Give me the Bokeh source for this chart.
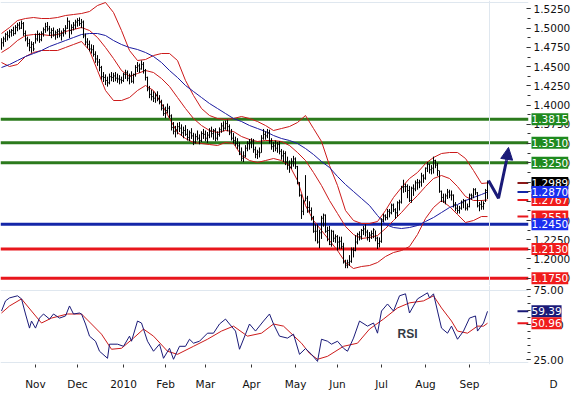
from bokeh.plotting import figure
from bokeh.models import (Span, Label, FixedTicker, Arrow, NormalHead, Range1d,
                          SingleIntervalTicker, NumeralTickFormatter, GridBox)
from bokeh.embed import file_html
from bokeh.resources import INLINE

# ---------------- data (EUR/USD daily, trading-day index) ----------------
month_idx = [17, 38, 61, 82, 102, 125, 147, 168, 190, 212, 234]
month_labels = ["Nov", "Dec", "2010", "Feb", "Mar", "Apr", "May", "Jun", "Jul", "Aug", "Sep"]

high = [1.487, 1.489, 1.494, 1.496, 1.498, 1.499, 1.502, 1.504, 1.507, 1.508,
        1.510, 1.508, 1.497, 1.489, 1.486, 1.483, 1.482, 1.493, 1.497, 1.494,
        1.496, 1.501, 1.507, 1.508, 1.503, 1.500, 1.501, 1.497, 1.499, 1.500,
        1.497, 1.500, 1.504, 1.514, 1.510, 1.505, 1.508, 1.511, 1.513, 1.514,
        1.512, 1.510, 1.493, 1.487, 1.484, 1.479, 1.478, 1.470, 1.465, 1.460,
        1.451, 1.443, 1.440, 1.437, 1.441, 1.443, 1.442, 1.443, 1.441, 1.439,
        1.437, 1.442, 1.446, 1.445, 1.441, 1.444, 1.441, 1.452, 1.456, 1.454,
        1.458, 1.456, 1.447, 1.437, 1.425, 1.420, 1.418, 1.416, 1.418, 1.413,
        1.407, 1.401, 1.398, 1.402, 1.399, 1.388, 1.378, 1.373, 1.377, 1.378,
        1.375, 1.372, 1.374, 1.369, 1.367, 1.370, 1.364, 1.363, 1.367, 1.362,
        1.366, 1.369, 1.367, 1.365, 1.370, 1.372, 1.369, 1.370, 1.366, 1.371,
        1.377, 1.379, 1.380, 1.381, 1.375, 1.369, 1.364, 1.359, 1.357, 1.352,
        1.345, 1.340, 1.348, 1.353, 1.356, 1.357, 1.356, 1.346, 1.342, 1.345,
        1.361, 1.369, 1.366, 1.369, 1.368, 1.357, 1.352, 1.354, 1.352, 1.353,
        1.343, 1.341, 1.340, 1.333, 1.328, 1.331, 1.334, 1.332, 1.321, 1.300,
        1.284, 1.277, 1.309, 1.282, 1.275, 1.267, 1.256, 1.245, 1.245, 1.238,
        1.256, 1.259, 1.258, 1.242, 1.243, 1.238, 1.237, 1.232, 1.231, 1.229,
        1.229, 1.221, 1.199, 1.199, 1.205, 1.215, 1.215, 1.231, 1.234, 1.236,
        1.239, 1.243, 1.245, 1.238, 1.235, 1.237, 1.240, 1.237, 1.229, 1.228,
        1.253, 1.259, 1.258, 1.265, 1.265, 1.272, 1.272, 1.266, 1.275, 1.277,
        1.295, 1.303, 1.298, 1.297, 1.295, 1.294, 1.297, 1.302, 1.304, 1.303,
        1.312, 1.310, 1.319, 1.326, 1.324, 1.322, 1.333, 1.329, 1.325, 1.315,
        1.289, 1.285, 1.285, 1.291, 1.290, 1.289, 1.284, 1.274, 1.270, 1.269,
        1.276, 1.278, 1.277, 1.272, 1.285, 1.285, 1.292, 1.292, 1.287, 1.274,
        1.276, 1.275, 1.291, 1.302]
low = [1.472, 1.476, 1.482, 1.484, 1.487, 1.489, 1.490, 1.492, 1.496, 1.498,
       1.499, 1.490, 1.483, 1.476, 1.470, 1.468, 1.470, 1.480, 1.483, 1.481,
       1.483, 1.489, 1.494, 1.496, 1.490, 1.487, 1.489, 1.485, 1.487, 1.488,
       1.484, 1.489, 1.492, 1.499, 1.487, 1.492, 1.497, 1.499, 1.502, 1.503,
       1.500, 1.487, 1.478, 1.474, 1.470, 1.467, 1.463, 1.455, 1.451, 1.444,
       1.433, 1.430, 1.426, 1.424, 1.427, 1.431, 1.430, 1.431, 1.429, 1.427,
       1.428, 1.430, 1.434, 1.431, 1.427, 1.429, 1.428, 1.437, 1.443, 1.442,
       1.446, 1.441, 1.432, 1.418, 1.409, 1.406, 1.404, 1.403, 1.405, 1.401,
       1.393, 1.386, 1.383, 1.389, 1.383, 1.367, 1.362, 1.358, 1.362, 1.365,
       1.360, 1.357, 1.360, 1.354, 1.353, 1.356, 1.348, 1.350, 1.354, 1.349,
       1.352, 1.356, 1.353, 1.351, 1.357, 1.358, 1.355, 1.353, 1.354, 1.359,
       1.364, 1.366, 1.368, 1.366, 1.361, 1.354, 1.350, 1.347, 1.343, 1.335,
       1.327, 1.326, 1.332, 1.340, 1.342, 1.344, 1.338, 1.331, 1.330, 1.332,
       1.338, 1.355, 1.355, 1.357, 1.350, 1.342, 1.339, 1.340, 1.338, 1.336,
       1.329, 1.326, 1.322, 1.316, 1.312, 1.317, 1.320, 1.317, 1.297, 1.281,
       1.252, 1.257, 1.275, 1.260, 1.260, 1.250, 1.234, 1.223, 1.220, 1.214,
       1.226, 1.242, 1.234, 1.223, 1.218, 1.216, 1.222, 1.221, 1.211, 1.213,
       1.213, 1.194, 1.188, 1.188, 1.191, 1.195, 1.202, 1.210, 1.219, 1.224,
       1.225, 1.231, 1.229, 1.224, 1.222, 1.226, 1.227, 1.223, 1.213, 1.215,
       1.221, 1.248, 1.250, 1.251, 1.254, 1.258, 1.261, 1.252, 1.255, 1.263,
       1.272, 1.286, 1.287, 1.279, 1.274, 1.273, 1.282, 1.288, 1.290, 1.292,
       1.294, 1.299, 1.303, 1.313, 1.311, 1.310, 1.311, 1.318, 1.308, 1.286,
       1.274, 1.273, 1.271, 1.278, 1.279, 1.276, 1.267, 1.262, 1.259, 1.259,
       1.264, 1.266, 1.263, 1.263, 1.267, 1.277, 1.279, 1.283, 1.267, 1.262,
       1.264, 1.264, 1.274, 1.278]
close = [1.481, 1.486, 1.492, 1.490, 1.495, 1.497, 1.493, 1.501, 1.504, 1.500,
         1.506, 1.493, 1.486, 1.480, 1.475, 1.479, 1.473, 1.486, 1.492, 1.485,
         1.493, 1.498, 1.502, 1.499, 1.494, 1.497, 1.491, 1.494, 1.496, 1.491,
         1.493, 1.497, 1.500, 1.509, 1.497, 1.501, 1.504, 1.508, 1.510, 1.506,
         1.508, 1.490, 1.482, 1.479, 1.473, 1.472, 1.466, 1.460, 1.456, 1.449,
         1.437, 1.436, 1.432, 1.429, 1.437, 1.436, 1.438, 1.435, 1.434, 1.433,
         1.432, 1.440, 1.442, 1.435, 1.438, 1.431, 1.440, 1.449, 1.451, 1.447,
         1.453, 1.445, 1.436, 1.421, 1.414, 1.411, 1.409, 1.413, 1.408, 1.404,
         1.396, 1.389, 1.393, 1.396, 1.386, 1.371, 1.366, 1.368, 1.372, 1.370,
         1.364, 1.367, 1.362, 1.358, 1.364, 1.360, 1.352, 1.359, 1.357, 1.354,
         1.363, 1.362, 1.357, 1.361, 1.366, 1.363, 1.367, 1.357, 1.362, 1.368,
         1.373, 1.370, 1.376, 1.372, 1.364, 1.357, 1.354, 1.350, 1.347, 1.339,
         1.331, 1.334, 1.344, 1.350, 1.351, 1.353, 1.342, 1.336, 1.339, 1.338,
         1.357, 1.362, 1.360, 1.364, 1.353, 1.346, 1.347, 1.344, 1.349, 1.340,
         1.334, 1.337, 1.326, 1.322, 1.319, 1.327, 1.330, 1.320, 1.299, 1.283,
         1.262, 1.275, 1.279, 1.267, 1.263, 1.254, 1.236, 1.236, 1.222, 1.234,
         1.253, 1.257, 1.236, 1.237, 1.219, 1.236, 1.227, 1.229, 1.222, 1.223,
         1.216, 1.196, 1.192, 1.195, 1.197, 1.212, 1.211, 1.222, 1.232, 1.229,
         1.237, 1.239, 1.235, 1.228, 1.231, 1.233, 1.238, 1.227, 1.220, 1.223,
         1.251, 1.256, 1.254, 1.262, 1.260, 1.270, 1.264, 1.260, 1.273, 1.274,
         1.293, 1.294, 1.294, 1.289, 1.276, 1.292, 1.291, 1.299, 1.299, 1.300,
         1.308, 1.305, 1.318, 1.323, 1.316, 1.318, 1.328, 1.322, 1.315, 1.288,
         1.280, 1.275, 1.282, 1.287, 1.283, 1.283, 1.271, 1.266, 1.263, 1.266,
         1.273, 1.276, 1.266, 1.268, 1.283, 1.282, 1.290, 1.286, 1.269, 1.271,
         1.268, 1.272, 1.289, 1.2989]

band_idx = [0, 4, 8, 12, 16, 20, 24, 28, 32, 36, 40, 44, 48, 52, 56, 60, 64, 68,
            72, 76, 80, 84, 88, 92, 96, 100, 104, 108, 112, 116, 120, 124, 128,
            132, 136, 140, 144, 148, 152, 156, 160, 164, 168, 172, 176, 180, 184,
            188, 192, 196, 200, 204, 208, 212, 216, 220, 224, 228, 232, 236, 240, 243]
bb_upper = [1.4931, 1.5009, 1.5100, 1.5126, 1.5139, 1.5126, 1.5126, 1.5139, 1.5165,
            1.5178, 1.5191, 1.5217, 1.5295, 1.5334, 1.5204, 1.4970, 1.4710, 1.4580,
            1.4593, 1.4645, 1.4671, 1.4671, 1.4580, 1.4320, 1.4125, 1.3956, 1.3865,
            1.3826, 1.3813, 1.3826, 1.3852, 1.3826, 1.3787, 1.3735, 1.3670, 1.3696,
            1.3722, 1.3774, 1.3865, 1.3696, 1.3527, 1.3215, 1.2955, 1.2630, 1.2500,
            1.2461, 1.2461, 1.2487, 1.2630, 1.2799, 1.2929, 1.3046, 1.3124, 1.3241,
            1.3319, 1.3371, 1.3384, 1.3384, 1.3306, 1.3150, 1.2981, 1.2989]
bb_mid = [1.4684, 1.4749, 1.4840, 1.4905, 1.4918, 1.4918, 1.4905, 1.4918, 1.4957,
          1.4983, 1.5009, 1.4970, 1.4879, 1.4749, 1.4606, 1.4450, 1.4372, 1.4411,
          1.4450, 1.4424, 1.4346, 1.4242, 1.4099, 1.3956, 1.3826, 1.3735, 1.3670,
          1.3644, 1.3670, 1.3657, 1.3592, 1.3553, 1.3527, 1.3540, 1.3540, 1.3527,
          1.3475, 1.3384, 1.3280, 1.3124, 1.2955, 1.2760, 1.2591, 1.2422, 1.2318,
          1.2266, 1.2279, 1.2305, 1.2396, 1.2500, 1.2604, 1.2721, 1.2825, 1.2942,
          1.3046, 1.3085, 1.3046, 1.2942, 1.2812, 1.2760, 1.2760, 1.2767]
bb_lower = [1.4554, 1.4502, 1.4528, 1.4632, 1.4684, 1.4710, 1.4710, 1.4710, 1.4749,
            1.4788, 1.4827, 1.4710, 1.4450, 1.4190, 1.4060, 1.4060, 1.4099, 1.4190,
            1.4255, 1.4190, 1.4021, 1.3826, 1.3644, 1.3566, 1.3514, 1.3501, 1.3488,
            1.3475, 1.3514, 1.3501, 1.3345, 1.3280, 1.3254, 1.3280, 1.3306, 1.3280,
            1.3215, 1.3020, 1.2695, 1.2500, 1.2370, 1.2240, 1.2110, 1.1954, 1.1876,
            1.1902, 1.1915, 1.1954, 1.2032, 1.2084, 1.2110, 1.2162, 1.2318, 1.2526,
            1.2669, 1.2760, 1.2682, 1.2578, 1.2474, 1.2500, 1.2552, 1.2551]
ma_line = [1.4489, 1.4528, 1.4580, 1.4632, 1.4671, 1.4710, 1.4762, 1.4801, 1.4840,
           1.4879, 1.4918, 1.4931, 1.4931, 1.4905, 1.4840, 1.4788, 1.4749, 1.4723,
           1.4684, 1.4632, 1.4554, 1.4450, 1.4359, 1.4255, 1.4177, 1.4099, 1.4021,
           1.3956, 1.3891, 1.3826, 1.3787, 1.3735, 1.3696, 1.3657, 1.3605, 1.3566,
           1.3540, 1.3501, 1.3436, 1.3358, 1.3267, 1.3189, 1.3072, 1.2968, 1.2877,
           1.2786, 1.2695, 1.2565, 1.2448, 1.2409, 1.2396, 1.2409, 1.2435, 1.2487,
           1.2539, 1.2604, 1.2669, 1.2708, 1.2760, 1.2799, 1.2838, 1.2870]

levels_green = [1.3815, 1.3510, 1.3250]
levels_blue = [1.2450]
levels_red = [1.2130, 1.1750]

arrow_x = [243.5, 248.5, 252.5, 253.5]
arrow_y = [1.302, 1.279, 1.328, 1.345]

rsi_x = [0, 2, 4, 8, 10, 12, 14, 15, 17, 19, 21, 24, 26, 29, 32, 34, 36, 39, 40, 42,
         44, 47, 49, 53, 54, 58, 61, 64, 65, 68, 70, 73, 76, 79, 81, 84, 86, 89, 92,
         94, 96, 99, 103, 106, 109, 112, 114, 117, 119, 122, 124, 127, 131, 134, 136,
         139, 143, 146, 149, 152, 155, 158, 160, 163, 165, 168, 171, 173, 176, 179,
         183, 186, 188, 190, 193, 196, 199, 202, 204, 208, 213, 214, 216, 218, 220,
         223, 225, 228, 231, 234, 237, 238, 241, 243]
rsi_v = [59.6, 66.8, 68.9, 70.4, 68.2, 57.5, 47.5, 52.5, 47.5, 54.6, 57.5, 53.9, 57.5,
         54.6, 56.1, 63.2, 57.5, 58.2, 57.5, 50.4, 41.8, 38.2, 31.1, 26.1, 36.1, 36.1,
         34.6, 41.8, 38.2, 52.5, 51.1, 38.2, 31.1, 36.1, 26.1, 33.2, 25.4, 34.6, 34.6,
         39.6, 36.8, 38.2, 43.9, 43.9, 50.4, 53.9, 50.4, 45.4, 32.5, 43.2, 50.4, 45.4,
         52.5, 57.5, 50.4, 41.8, 40.4, 43.2, 28.9, 33.0, 28.9, 23.9, 39.6, 38.2, 36.1,
         38.2, 33.2, 31.1, 40.4, 52.5, 48.9, 51.1, 43.9, 59.6, 64.6, 59.6, 70.4, 71.8,
         58.2, 68.2, 72.5, 68.9, 71.8, 59.6, 47.5, 43.9, 48.9, 39.6, 45.4, 54.6, 56.1,
         45.4, 51.1, 59.39]
rsi_ma_x = [0, 4, 10, 15, 20, 25, 33, 40, 45, 50, 55, 60, 66, 71, 76, 83, 88, 96, 103,
            110, 116, 123, 130, 136, 141, 150, 154, 158, 163, 171, 178, 184, 191, 198,
            204, 211, 216, 220, 225, 228, 233, 238, 241, 243]
rsi_ma_v = [58.2, 63.2, 68.2, 59.6, 51.1, 54.6, 57.5, 57.5, 50.4, 43.2, 32.5, 33.2,
            40.4, 46.8, 41.8, 31.1, 28.9, 34.6, 39.6, 45.4, 48.9, 41.8, 43.9, 50.4,
            48.9, 36.8, 29.6, 25.4, 27.5, 34.6, 36.8, 46.8, 53.9, 61.8, 65.4, 66.8,
            70.4, 61.8, 52.5, 45.4, 43.9, 48.9, 48.9, 50.96]

# ---------------- styles / geometry ----------------
FONT = "DejaVu Sans"
FS = "10.5px"
GREEN_LINE = "#2b7a1c"
GREEN_TAG = "#1f8a1f"
BLUE_LINE = "#1426a8"
BLUE_TAG = "#1a2ff0"
RED_LINE = "#e8161c"
RED_TAG = "#f01c1c"
BAND = "#cc1a1a"
MA_COL = "#1c1ca0"
NAVY = "#1a1a78"
GRID = "#dfe7ef"

FW, FULL_W = 528, 572
MAIN_H, RSI_H, XAX_H = 285, 79, 30
X0, X1 = -0.5, 263.5
XF = X0 + (X1 - X0) * FULL_W / FW          # same pixel scale, full page width
RSI_LO, RSI_HI = 21.7, 77.7
RSI_PX = (RSI_HI - RSI_LO) / RSI_H          # RSI units per pixel
RSI_LO_EXT = RSI_HI - RSI_PX * (RSI_H + XAX_H)
MAIN_PX = (1.5360 - 1.1655) / MAIN_H
n = len(close)
idx = list(range(n))


def style_right_axis(ax, fmt):
    ax.axis_line_color = None
    ax.major_tick_in = 2
    ax.major_tick_out = 2
    ax.minor_tick_in = 1
    ax.minor_tick_out = 2
    ax.major_tick_line_color = "#333333"
    ax.minor_tick_line_color = "#333333"
    ax.major_label_standoff = 3
    ax.major_label_text_font = FONT
    ax.major_label_text_font_size = FS
    ax.major_label_text_color = "#111111"
    ax.formatter = NumeralTickFormatter(format=fmt)


def overlay(frame_h, y_range):
    f = figure(frame_width=FULL_W, frame_height=frame_h, x_range=Range1d(X0, XF),
               y_range=y_range, toolbar_location=None, output_backend="svg",
               x_axis_location=None, y_axis_location=None, min_border=0,
               outline_line_color=None, background_fill_alpha=0, border_fill_alpha=0)
    f.grid.visible = False
    return f


def tag(fig, yv, text, color):
    fig.add_layout(Label(x=X1, y=yv, x_offset=3, text=text, text_color="white",
                         text_font=FONT, text_font_size=FS, text_baseline="middle",
                         text_align="left", background_fill_color=color,
                         background_fill_alpha=1.0, padding=(0, 2)))


# ---------------- main price panel ----------------
main = figure(frame_width=FW, frame_height=MAIN_H, x_range=Range1d(X0, X1),
              y_range=Range1d(1.1655, 1.5360), toolbar_location=None,
              output_backend="svg", y_axis_location="right",
              min_border_left=0, min_border_right=0, min_border_top=0,
              min_border_bottom=0, outline_line_color=None)
main.xaxis.visible = False
main.grid.visible = False
main.yaxis.ticker = SingleIntervalTicker(interval=0.025, num_minor_ticks=2)
style_right_axis(main.yaxis[0], "0.0000")

# faint panel border at the top of the price panel
main.add_layout(Span(location=1.5360 - 2 * MAIN_PX, dimension="width",
                     line_color=GRID, line_width=1, level="underlay"))
for levels, col in [(levels_green, GREEN_LINE), (levels_blue, BLUE_LINE),
                    (levels_red, RED_LINE)]:
    for lv in levels:
        main.add_layout(Span(location=lv, dimension="width", line_color=col,
                             line_width=3, level="underlay"))
main.add_layout(Span(location=n, dimension="height", line_color=GRID, line_width=1,
                     level="underlay"))

main.line(band_idx, bb_upper, line_color=BAND, line_width=1)
main.line(band_idx, bb_mid, line_color=BAND, line_width=1)
main.line(band_idx, bb_lower, line_color=BAND, line_width=1)
main.line(band_idx, ma_line, line_color=MA_COL, line_width=1)

main.segment(x0=idx, y0=low, x1=idx, y1=high, line_color="black", line_width=1)
main.segment(x0=idx, y0=close, x1=[i + 0.6 for i in idx], y1=close,
             line_color="black", line_width=1)

mk_x0, mk_x1 = n + 14, X1
for val, col in [(bb_upper[-1], "#8b1818"), (ma_line[-1], BLUE_LINE),
                 (bb_mid[-1], RED_LINE), (bb_lower[-1], RED_LINE)]:
    main.segment(x0=[mk_x0], y0=[val], x1=[mk_x1], y1=[val], line_color=col, line_width=2)

main.line(arrow_x[:3], arrow_y[:3], line_color=NAVY, line_width=3)
main.add_layout(Arrow(end=NormalHead(size=12, fill_color=NAVY, line_color=NAVY),
                      x_start=arrow_x[2], y_start=arrow_y[2], x_end=arrow_x[3],
                      y_end=arrow_y[3], line_color=NAVY, line_width=3))

# value tags drawn on a transparent overlay that also covers the price scale
main_ov = overlay(MAIN_H, main.y_range)
for lv in levels_green:
    tag(main_ov, lv, f"{lv:.4f}", GREEN_TAG)
tag(main_ov, bb_upper[-1], f"{bb_upper[-1]:.4f}", "black")
tag(main_ov, bb_mid[-1], f"{bb_mid[-1]:.4f}", RED_TAG)
tag(main_ov, bb_lower[-1], f"{bb_lower[-1]:.4f}", RED_TAG)
tag(main_ov, ma_line[-1], f"{ma_line[-1]:.4f}", BLUE_TAG)
for lv in levels_blue:
    tag(main_ov, lv, f"{lv:.4f}", BLUE_TAG)
for lv in levels_red:
    tag(main_ov, lv, f"{lv:.4f}", RED_TAG)

# ---------------- RSI panel ----------------
rsi = figure(frame_width=FW, frame_height=RSI_H, x_range=main.x_range,
             y_range=Range1d(RSI_LO, RSI_HI), toolbar_location=None,
             output_backend="svg", y_axis_location="right",
             min_border_left=0, min_border_right=0, min_border_top=0,
             min_border_bottom=XAX_H, outline_line_color=None)
rsi.grid.visible = False
rsi.yaxis.ticker = SingleIntervalTicker(interval=25, num_minor_ticks=5)
style_right_axis(rsi.yaxis[0], "0.00")

xa = rsi.xaxis[0]
xa.ticker = FixedTicker(ticks=month_idx)
xa.major_label_overrides = {m: lab for m, lab in zip(month_idx, month_labels)}
xa.axis_line_color = None
xa.major_tick_in = 0
xa.major_tick_out = 3
xa.minor_tick_line_color = None
xa.major_tick_line_color = "#333333"
xa.major_label_standoff = 10
xa.major_label_text_font = FONT
xa.major_label_text_font_size = FS
xa.major_label_text_color = "#111111"

# faint top / bottom borders of the RSI panel
for off_px in (5, RSI_H - 2):
    rsi.add_layout(Span(location=RSI_HI - off_px * RSI_PX, dimension="width",
                        line_color=GRID, line_width=1, level="underlay"))
rsi.add_layout(Span(location=n, dimension="height", line_color=GRID, line_width=1,
                    level="underlay"))
rsi.line(rsi_ma_x, rsi_ma_v, line_color=BAND, line_width=1)
rsi.line(rsi_x, rsi_v, line_color=NAVY, line_width=1)
for val, col in [(rsi_v[-1], NAVY), (rsi_ma_v[-1], RED_LINE)]:
    rsi.segment(x0=[mk_x0], y0=[val], x1=[mk_x1], y1=[val], line_color=col, line_width=2)

rsi.add_layout(Label(x=203, y=43, text="RSI", text_font="Liberation Sans",
                     text_font_size="12px", text_font_style="bold",
                     text_color="#333a44", text_align="center", text_baseline="middle"))

rsi_ov = overlay(RSI_H + XAX_H, Range1d(RSI_LO_EXT, RSI_HI))
tag(rsi_ov, rsi_v[-1], f"{rsi_v[-1]:.2f}", NAVY)
tag(rsi_ov, rsi_ma_v[-1], f"{rsi_ma_v[-1]:.2f}", RED_TAG)
rsi_ov.add_layout(Label(x=XF, y=RSI_LO_EXT, x_offset=-19, y_offset=11, text="D",
                        text_font=FONT, text_font_size=FS, text_color="#111111",
                        text_align="center", text_baseline="middle"))

layout = GridBox(children=[(main, 0, 0), (main_ov, 0, 0), (rsi, 1, 0), (rsi_ov, 1, 0)],
                 spacing=0)
open("out.html", "w").write(file_html(layout, INLINE))
